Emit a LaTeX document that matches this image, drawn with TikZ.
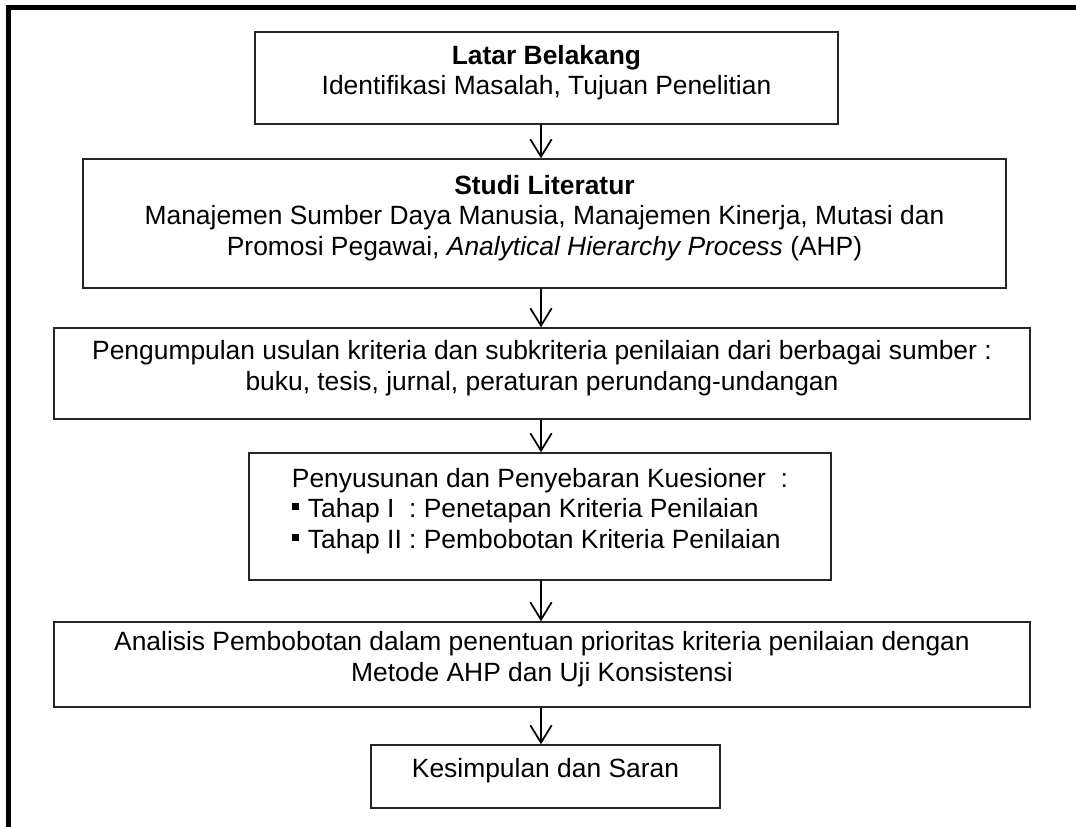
\documentclass[tikz,border=0pt]{standalone}
\usepackage{fontspec}
\setmainfont{Liberation Sans}
\usetikzlibrary{arrows.meta}
\newcommand{\sqbul}{\raisebox{6pt}{\rule{5pt}{5pt}}\hspace{7pt}}
% text block raised a little inside its box, box size unchanged
\newcommand{\bxc}[1]{\raisebox{3.5pt}[\height][\depth]{\begin{tabular}{@{}c@{}}#1\end{tabular}}}
\newcommand{\bxl}[1]{\raisebox{3.5pt}[\height][\depth]{\begin{tabular}{@{}l@{}}#1\end{tabular}}}
\begin{document}
\begin{tikzpicture}[x=0.75pt,y=-0.75pt,
  box/.style={draw=black!85, line width=1.1pt, inner sep=0pt,
    font=\fontsize{19.8}{23}\selectfont},
  wh/.style 2 args={minimum width=#1*0.75pt, minimum height=#2*0.75pt},
  flow/.style={line width=1.3pt, -{Straight Barb[length=13pt,width=16pt,line width=1.3pt]}},
  frameline/.style={line width=3.8pt}]
\useasboundingbox (0,0) rectangle (1076,827);
% outer frame (top and left sides visible)
\draw[frameline] (8.5,830) -- (8.5,7.5) -- (1080,7.5);
% boxes
\node[box, wh={583}{92}] (b1) at (546.5,78)
  {\bxc{\textbf{Latar Belakang}\\Identifikasi Masalah, Tujuan Penelitian}};
\node[box, wh={923}{129}] (b2) at (544.5,223.5)
  {\bxc{\textbf{Studi Literatur}\\Manajemen Sumber Daya Manusia, Manajemen Kinerja, Mutasi dan\\Promosi Pegawai, \textit{Analytical Hierarchy Process} (AHP)}};
\node[box, wh={976}{91}] (b3) at (542,373.5)
  {\bxc{Pengumpulan usulan kriteria dan subkriteria penilaian dari berbagai sumber :\\buku, tesis, jurnal, peraturan perundang-undangan}};
\node[box, wh={582}{127}] (b4) at (540,516.5)
  {\bxl{Penyusunan dan Penyebaran Kuesioner\ \ :\\
    \sqbul Tahap I\ \ : Penetapan Kriteria Penilaian\\
    \sqbul Tahap II : Pembobotan Kriteria Penilaian}};
\node[box, wh={976}{85}] (b5) at (542,664.5)
  {\bxc{Analisis Pembobotan dalam penentuan prioritas kriteria penilaian dengan\\Metode AHP dan Uji Konsistensi}};
\node[box, wh={349}{63}] (b6) at (545.5,776.5) {\bxc{Kesimpulan dan Saran}};
% arrows
\coordinate (ax) at (541,0);
\draw[flow] (b1.south -| ax) -- (b2.north -| ax);
\draw[flow] (b2.south -| ax) -- (b3.north -| ax);
\draw[flow] (b3.south -| ax) -- (b4.north -| ax);
\draw[flow] (b4.south -| ax) -- (b5.north -| ax);
\draw[flow] (b5.south -| ax) -- (b6.north -| ax);
\end{tikzpicture}
\end{document}
